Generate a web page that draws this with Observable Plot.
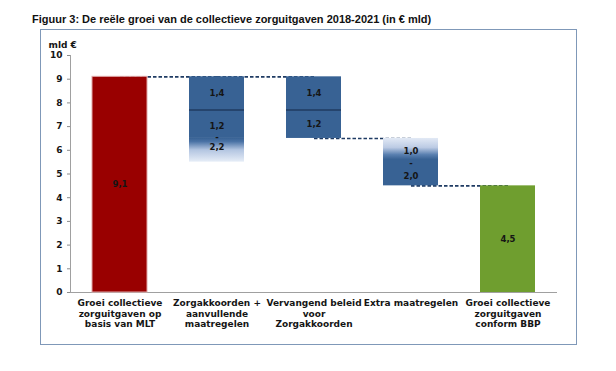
<!DOCTYPE html>
<html><head><meta charset="utf-8">
<script src="https://cdn.jsdelivr.net/npm/d3@7"></script>
<script src="https://cdn.jsdelivr.net/npm/@observablehq/plot@0.6"></script>
<style>
body{margin:0;background:#fff;}
#wrap{position:relative;width:616px;height:371px;overflow:hidden;}
#title{position:absolute;left:32px;top:13px;font:bold 11px "Liberation Sans",sans-serif;color:#111;white-space:nowrap;}
#box{position:absolute;left:40px;top:29px;width:535px;height:314px;border:1px solid #7f98b8;box-sizing:content-box;}
#chart{position:absolute;left:40px;top:29px;}
</style></head><body>
<div id="wrap">
<div id="title">Figuur 3: De reële groei van de collectieve zorguitgaven 2018-2021 (in € mld)</div>
<div id="box"></div>
<div id="chart"></div>
</div>
<script>
// ---- data ----
const categories = [
  "Groei collectieve\nzorguitgaven op\nbasis van MLT",
  "Zorgakkoorden +\naanvullende\nmaatregelen",
  "Vervangend beleid\nvoor\nZorgakkoorden",
  "Extra maatregelen",
  "Groei collectieve\nzorguitgaven\nconform BBP"
];
const mltGrowth = 9.1;
const zorgakkoordenFirst = 1.4;
const zorgakkoordenRange = [1.2, 2.2];
const vervangend = [1.4, 1.2];
const extraRange = [1.0, 2.0];
const bbpGrowth = 4.5;
const yTicks = [0,1,2,3,4,5,6,7,8,9,10];
const yUnit = "mld €";

// ---- derived waterfall levels ----
const fmt = v => d3.format(".1f")(v).replace(".", ",");
const lvlZ1 = mltGrowth - zorgakkoordenFirst;
const lvlZ2 = lvlZ1 - zorgakkoordenRange[0];
const lvlZ3 = lvlZ1 - zorgakkoordenRange[1];
const lvlV1 = mltGrowth - vervangend[0];
const lvlV2 = lvlV1 - vervangend[1];
const lvlE2 = lvlV2 - extraRange[1];

const segments = [
  {cat: categories[0], y1: 0, y2: mltGrowth, kind: "red"},
  {cat: categories[1], y1: lvlZ2, y2: mltGrowth, kind: "blue"},
  {cat: categories[1], y1: lvlZ3, y2: lvlZ2, kind: "fadeDown"},
  {cat: categories[2], y1: lvlV2, y2: mltGrowth, kind: "blue"},
  {cat: categories[3], y1: lvlE2, y2: lvlV2, kind: "fadeUp"},
  {cat: categories[4], y1: 0, y2: bbpGrowth, kind: "green"}
];
const dividers = [
  {cat: categories[1], y: lvlZ1},
  {cat: categories[2], y: lvlV1}
];
const connectors = [
  {a: categories[0], b: categories[1], y: mltGrowth},
  {a: categories[1], b: categories[2], y: mltGrowth},
  {a: categories[2], b: categories[3], y: lvlV2},
  {a: categories[3], b: categories[4], y: lvlE2}
];
const labels = [
  {cat: categories[0], y: mltGrowth / 2, t: fmt(mltGrowth)},
  {cat: categories[1], y: (mltGrowth + lvlZ1) / 2, t: fmt(zorgakkoordenFirst)},
  {cat: categories[2], y: (mltGrowth + lvlV1) / 2, t: fmt(vervangend[0])},
  {cat: categories[2], y: (lvlV1 + lvlV2) / 2, t: fmt(vervangend[1])},
  {cat: categories[4], y: bbpGrowth / 2, t: fmt(bbpGrowth)}
];
const rangeLabelZ = [{cat: categories[1], y: (lvlZ1 + lvlZ3) / 2, t: fmt(zorgakkoordenRange[0]) + "\n-\n" + fmt(zorgakkoordenRange[1])}];
const rangeLabelE = [{cat: categories[3], y: (lvlV2 + lvlE2) / 2, t: fmt(extraRange[0]) + "\n-\n" + fmt(extraRange[1])}];

const BLUE = "#386294";
const font = "DejaVu Sans";

const chart = Plot.plot({
  width: 536, height: 315,
  marginLeft: 30, marginRight: 19, marginTop: 26, marginBottom: 52,
  style: {fontFamily: font, fontWeight: "bold", color: "#151515", background: "transparent"},
  x: {domain: categories, paddingInner: 0.435, paddingOuter: 0.2175, label: null},
  y: {domain: [0, 10], label: null},
  marks: [
    Plot.axisY({ticks: yTicks, tickSize: 3, tickPadding: 5, fontSize: 9, fontWeight: "bold", stroke: "#8c8c8c", tickFormat: d => d}),
    Plot.axisX({tickSize: 0, tickPadding: 6, fontSize: 9, fontWeight: "bold", lineHeight: 1.18, tickFormat: d => d}),
    Plot.frame({anchor: "left", stroke: "#a0a0a0"}),
    Plot.ruleY([0], {stroke: "#a0a0a0"}),
    Plot.link(connectors, {x1: "a", x2: "b", y1: "y", y2: "y", stroke: "#1f3b63", strokeWidth: 1.6, strokeDasharray: "3.5,2"}),
    Plot.barY(segments.filter(d => d.kind === "red"), {x: "cat", y1: "y1", y2: "y2", fill: "#990000", stroke: "#e0a8a8", strokeWidth: 1}),
    Plot.barY(segments.filter(d => d.kind === "green"), {x: "cat", y1: "y1", y2: "y2", fill: "#6f9e2f"}),
    Plot.barY(segments.filter(d => d.kind === "blue"), {x: "cat", y1: "y1", y2: "y2", fill: BLUE}),
    Plot.barY(segments.filter(d => d.kind === "fadeDown"), {x: "cat", y1: "y1", y2: "y2", fill: "url(#fadeDown)"}),
    Plot.barY(segments.filter(d => d.kind === "fadeUp"), {x: "cat", y1: "y1", y2: "y2", fill: "url(#fadeUp)"}),
    Plot.tickY(dividers, {x: "cat", y: "y", stroke: "#1f3b60", strokeWidth: 1.6}),
    Plot.text(labels, {x: "cat", y: "y", text: "t", fontSize: 8.5, fontWeight: "bold", fill: "#151515"}),
    Plot.text(rangeLabelZ, {x: "cat", y: "y", text: "t", fontSize: 8.5, fontWeight: "bold", fill: "#151515", lineHeight: 1.26}),
    Plot.text(rangeLabelE, {x: "cat", y: "y", text: "t", fontSize: 8.5, fontWeight: "bold", fill: "#151515", lineHeight: 1.48}),
    Plot.text([yUnit], {frameAnchor: "top-left", dx: -22, dy: -14, textAnchor: "start", fontSize: 9, fontWeight: "bold", fill: "#151515"})
  ]
});

const svg = chart.tagName.toLowerCase() === "svg" ? chart : chart.querySelector("svg");
const defs = d3.select(svg).insert("defs", ":first-child");
const g1 = defs.append("linearGradient").attr("id", "fadeDown").attr("x1", 0).attr("y1", 0).attr("x2", 0).attr("y2", 1);
[[0, BLUE], [0.15, "#4a72a5"], [0.5, "#b3c5e1"], [1, "#e6edf7"]].forEach(([o, c]) => g1.append("stop").attr("offset", o).attr("stop-color", c));
const g2 = defs.append("linearGradient").attr("id", "fadeUp").attr("x1", 0).attr("y1", 0).attr("x2", 0).attr("y2", 1);
[[0, "#e2e9f5"], [0.2, "#bccbe4"], [0.35, "#5a80b0"], [0.45, BLUE], [1, BLUE]].forEach(([o, c]) => g2.append("stop").attr("offset", o).attr("stop-color", c));

document.getElementById("chart").appendChild(chart);
</script>
</body></html>
